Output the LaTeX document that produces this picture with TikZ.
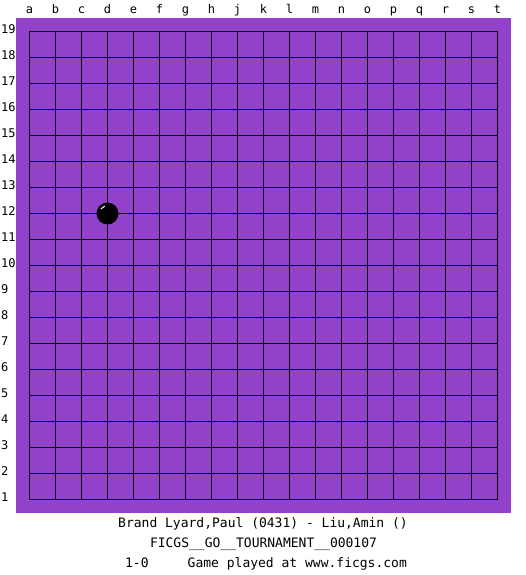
\documentclass[tikz,border=0pt]{standalone}
\usepackage{fontspec}
\setmonofont{DejaVu Sans Mono}
\definecolor{boardpurple}{RGB}{145,65,202}
\begin{document}
\begin{tikzpicture}[x=1pt,y=-1pt,
  lbl/.style={font=\ttfamily\fontsize{12}{12}\selectfont,inner sep=0pt},
  caption/.style={font=\ttfamily\fontsize{13}{13}\selectfont,inner sep=0pt},
  gridline/.style={line width=1pt,black}]
\useasboundingbox (0,0) rectangle (525,575);
\fill[white] (0,0) rectangle (525,575);
\fill[boardpurple] (16,18) rectangle (511,513);
\foreach \i in {0,...,18} {
  \draw[gridline] (29.5+26*\i,31) -- (29.5+26*\i,500);
  \draw[gridline] (29,31.5+26*\i) -- (498,31.5+26*\i);
}
\foreach \l [count=\k from 0] in {a,b,c,d,e,f,g,h,j,k,l,m,n,o,p,q,r,s,t}
  \node[lbl,anchor=base] (col\l) at (29.5+26*\k,14) {\l};
\foreach \n [count=\k from 0] in {19,18,...,1}
  \node[lbl,anchor=west] (row\n) at (1,29.5+26*\k) {\n};
\node[circle,fill=black,minimum size=22pt,inner sep=0pt] (stone) at (107.5,213.5) {};
\draw[white,line width=1pt] (stone.center) ++(215:8) arc[start angle=215,end angle=250,radius=8];
\node[caption] (title) at (263,524) {Brand Lyard,Paul (0431) - Liu,Amin ()};
\node[caption] (event) at (263.5,544) {FICGS\_\_GO\_\_TOURNAMENT\_\_000107};
\node[caption] (result) at (266,564) {1-0\ \ \ \ \ Game played at www.ficgs.com};
\end{tikzpicture}
\end{document}
